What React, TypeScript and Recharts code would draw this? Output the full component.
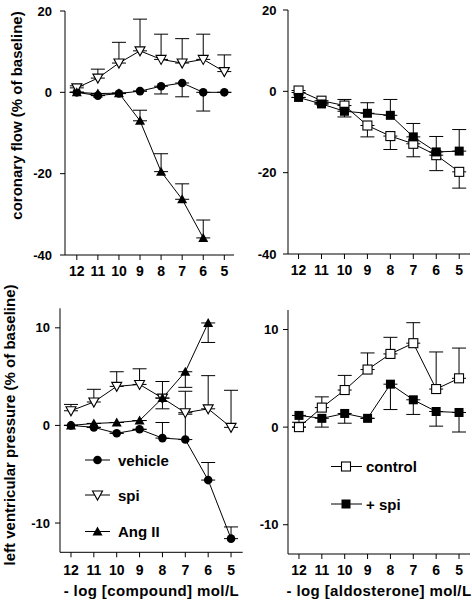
import React from "react"
import { LineChart, Line, XAxis, YAxis, ErrorBar } from "recharts"

const FONT = "'Liberation Sans', Arial, Helvetica, sans-serif"

const doses = [12, 11, 10, 9, 8, 7, 6, 5]

// coronary flow (% of baseline), compound
const cfVehicle = [0, -0.8, -0.3, 0.3, 1.5, 2.3, 0, 0]
const cfVehicleSem = [0, 0, 0, 0, 1.9, 3.4, 4.6, 0] // downward
const cfSpi = [1.1, 3.5, 7.2, 10.2, 8.1, 7.2, 8.1, 5.1]
const cfSpiSem = [0.5, 2.2, 5.1, 7.8, 6.2, 6.0, 6.2, 4.1] // upward
const cfAng = [0, -0.3, -0.2, -7, -19.5, -26.3, -35.8, null]
const cfAngSem = [0, 0, 0, 2.6, 4.4, 3.8, 4.4, 0] // upward

// coronary flow, aldosterone
const cfControl = [0.2, -2.3, -3.5, -8.4, -11, -12.9, -15.7, -19.8]
const cfControlSem = [0.5, 0.5, 2.8, 2.8, 3.3, 3.2, 3.8, 4.0] // downward
const cfAldoSpi = [-1.5, -3.1, -4.9, -5.4, -5.9, -11.2, -14.9, -14.7]
const cfAldoSpiSem = [0, 0, 2.9, 2.6, 3.9, 3.3, 3.8, 5.3] // upward

// left ventricular pressure (% of baseline), compound
const lvVehicle = [0, -0.2, -0.8, -0.4, -1.3, -1.45, -5.6, -11.6]
const lvVehicleSem = [0, 0, 0, 0, 1.6, 2.6, 1.8, 1.2] // upward
const lvSpi = [1.5, 2.4, 4.0, 4.2, 2.8, 1.3, 1.7, -0.2]
const lvSpiSem = [0.65, 1.3, 1.5, 1.6, 1.7, 2.2, 3.4, 3.8] // upward
const lvAng = [0, 0.2, 0.3, 0.5, 2.8, 5.5, 10.5, null]
const lvAngSem = [0, 0, 0, 0, 1.1, 1.6, 2.0, 0] // downward

// left ventricular pressure, aldosterone
const lvControl = [0, 2.0, 3.8, 5.9, 7.5, 8.6, 3.9, 5.0]
const lvControlSem = [0, 1.1, 1.5, 1.7, 1.7, 2.1, 3.8, 3.1] // upward
const lvAldoSpi = [1.2, 0.9, 1.4, 0.9, 4.4, 2.8, 1.6, 1.5]
const lvAldoSpiSem = [0.7, 0.9, 1.0, 0, 2.6, 1.5, 1.5, 2.0] // downward

type Shape = "circle" | "triUp" | "triDownOpen" | "squareOpen" | "squareFilled"

function Marker({ cx, cy, shape }: { cx: number; cy: number; shape: Shape }) {
  if (cx == null || cy == null || isNaN(cy)) return null
  switch (shape) {
    case "circle":
      return <circle cx={cx} cy={cy} r={4.3} fill="#000" />
    case "triUp":
      return <polygon points={`${cx},${cy - 5} ${cx + 5},${cy + 4} ${cx - 5},${cy + 4}`} fill="#000" />
    case "triDownOpen":
      return (
        <polygon
          points={`${cx - 5},${cy - 4} ${cx + 5},${cy - 4} ${cx},${cy + 5}`}
          fill="#fff"
          stroke="#000"
          strokeWidth={1.1}
        />
      )
    case "squareOpen":
      return <rect x={cx - 4.5} y={cy - 4.5} width={9} height={9} fill="#fff" stroke="#000" strokeWidth={1.1} />
    case "squareFilled":
      return <rect x={cx - 4.5} y={cy - 4.5} width={9} height={9} fill="#000" />
  }
  return null
}

interface Series {
  name: string
  values: (number | null)[]
  sem: number[]
  up: boolean
  shape: Shape
}

function buildRows(series: Series[]) {
  return doses.map((x, i) => {
    const row: any = { x }
    series.forEach((s) => {
      row[s.name] = s.values[i]
      row[s.name + "Err"] = s.up ? [0, s.sem[i]] : [s.sem[i], 0]
    })
    return row
  })
}

interface PanelProps {
  left: number
  top: number
  width: number
  height: number
  margin: { top: number; right: number; left: number; bottom: number }
  yWidth: number
  xHeight: number
  xDomain: [number, number]
  yDomain: [number, number]
  yTicks: number[]
  yTickMargin: number
  xTickMargin: number
  title?: string
  series: Series[]
}

function Panel(p: PanelProps) {
  const data = buildRows(p.series)
  return (
    <div style={{ position: "absolute", left: p.left, top: p.top }}>
      <LineChart width={p.width} height={p.height} data={data} margin={p.margin} style={{ fontFamily: FONT }}>
        <XAxis
          type="number"
          dataKey="x"
          domain={p.xDomain}
          reversed
          allowDataOverflow
          ticks={doses}
          interval={0}
          height={p.xHeight}
          stroke="#000"
          tickSize={5}
          tickMargin={p.xTickMargin}
          tick={{ fill: "#000", fontSize: 14, fontWeight: "bold", fontFamily: FONT }}
          label={
            p.title
              ? {
                  value: p.title,
                  position: "insideBottom",
                  offset: 4.5,
                  fill: "#000",
                  fontSize: 15,
                  fontWeight: "bold",
                  fontFamily: FONT,
                  letterSpacing: 0.4,
                }
              : undefined
          }
        />
        <YAxis
          type="number"
          domain={p.yDomain}
          ticks={p.yTicks}
          allowDataOverflow
          interval={0}
          width={p.yWidth}
          stroke="#000"
          tickSize={5}
          tickMargin={p.yTickMargin}
          tick={{ fill: "#000", fontSize: 13, fontWeight: "bold", fontFamily: FONT }}
        />
        {p.series.map((s) => (
          <Line
            key={s.name}
            type="linear"
            dataKey={s.name}
            stroke="#000"
            strokeWidth={1}
            isAnimationActive={false}
            dot={(d: any) => <Marker key={`${s.name}-${d.index}`} cx={d.cx} cy={d.cy} shape={s.shape} />}
            activeDot={false}
          >
            <ErrorBar dataKey={s.name + "Err"} direction="y" width={7} stroke="#000" strokeWidth={1} isAnimationActive={false} />
          </Line>
        ))}
      </LineChart>
    </div>
  )
}

const compoundSeriesCF: Series[] = [
  { name: "vehicle", values: cfVehicle, sem: cfVehicleSem, up: false, shape: "circle" },
  { name: "spi", values: cfSpi, sem: cfSpiSem, up: true, shape: "triDownOpen" },
  { name: "AngII", values: cfAng, sem: cfAngSem, up: true, shape: "triUp" },
]
const aldoSeriesCF: Series[] = [
  { name: "control", values: cfControl, sem: cfControlSem, up: false, shape: "squareOpen" },
  { name: "plusSpi", values: cfAldoSpi, sem: cfAldoSpiSem, up: true, shape: "squareFilled" },
]
const compoundSeriesLV: Series[] = [
  { name: "vehicle", values: lvVehicle, sem: lvVehicleSem, up: true, shape: "circle" },
  { name: "spi", values: lvSpi, sem: lvSpiSem, up: true, shape: "triDownOpen" },
  { name: "AngII", values: lvAng, sem: lvAngSem, up: false, shape: "triUp" },
]
const aldoSeriesLV: Series[] = [
  { name: "control", values: lvControl, sem: lvControlSem, up: true, shape: "squareOpen" },
  { name: "plusSpi", values: lvAldoSpi, sem: lvAldoSpiSem, up: false, shape: "squareFilled" },
]

const compoundLegend: { label: string; shape: Shape; y: number }[] = [
  { label: "vehicle", shape: "circle", y: 460 },
  { label: "spi", shape: "triDownOpen", y: 495 },
  { label: "Ang II", shape: "triUp", y: 531.5 },
]
const aldoLegend: { label: string; shape: Shape; y: number }[] = [
  { label: "control", shape: "squareOpen", y: 466.5 },
  { label: "+ spi", shape: "squareFilled", y: 504 },
]

export default function App() {
  return (
    <div style={{ position: "absolute", left: 0, top: 0, width: 472, height: 600, background: "#fff", fontFamily: FONT }}>
      <Panel
        left={0}
        top={0}
        width={240}
        height={290}
        margin={{ top: 11, right: 6, left: 0, bottom: 0 }}
        yWidth={65}
        xHeight={35}
        xDomain={[4.54, 12.56]}
        yDomain={[-40, 20]}
        yTicks={[-40, -20, 0, 20]}
        yTickMargin={8}
        xTickMargin={6.5}
        series={compoundSeriesCF}
      />
      <Panel
        left={240}
        top={0}
        width={232}
        height={290}
        margin={{ top: 10, right: 2, left: 0, bottom: 0 }}
        yWidth={48}
        xHeight={36}
        xDomain={[4.53, 12.46]}
        yDomain={[-40, 20]}
        yTicks={[-40, -20, 0, 20]}
        yTickMargin={6.5}
        xTickMargin={6}
        series={aldoSeriesCF}
      />
      <Panel
        left={0}
        top={290}
        width={245}
        height={310}
        margin={{ top: 18.3, right: 2.3, left: 0, bottom: 0 }}
        yWidth={60}
        xHeight={47.7}
        xDomain={[4.49, 12.48]}
        yDomain={[-13, 12]}
        yTicks={[-10, 0, 10]}
        yTickMargin={5}
        xTickMargin={8}
        title="- log [compound] mol/L"
        series={compoundSeriesLV}
      />
      <Panel
        left={240}
        top={290}
        width={232}
        height={310}
        margin={{ top: 20, right: 2, left: 0, bottom: 0 }}
        yWidth={48}
        xHeight={46}
        xDomain={[4.52, 12.48]}
        yDomain={[-13, 12]}
        yTicks={[-10, 0, 10]}
        yTickMargin={4.5}
        xTickMargin={6.5}
        title="- log [aldosterone] mol/L"
        series={aldoSeriesLV}
      />
      <svg width={472} height={600} style={{ position: "absolute", left: 0, top: 0, pointerEvents: "none" }}>
        <text
          x={22}
          y={115.5}
          transform="rotate(-90 22 115.5)"
          textAnchor="middle"
          fontSize={15}
          fontWeight="bold"
          fontFamily={FONT}
          fill="#000"
        >
          coronary flow (% of baseline)
        </text>
        <text
          x={14.5}
          y={425}
          transform="rotate(-90 14.5 425)"
          textAnchor="middle"
          fontSize={15}
          fontWeight="bold"
          fontFamily={FONT}
          fill="#000"
        >
          left ventricular pressure (% of baseline)
        </text>
        {compoundLegend.map((l) => (
          <g key={l.label}>
            <line x1={85} x2={110} y1={l.y} y2={l.y} stroke="#000" strokeWidth={1} />
            <Marker cx={97.5} cy={l.y} shape={l.shape} />
            <text x={118} y={l.y + 5.5} fontSize={15} fontWeight="bold" fontFamily={FONT} fill="#000">
              {l.label}
            </text>
          </g>
        ))}
        {aldoLegend.map((l) => (
          <g key={l.label}>
            <line x1={331} x2={362} y1={l.y} y2={l.y} stroke="#000" strokeWidth={1} />
            <Marker cx={346} cy={l.y} shape={l.shape} />
            <text x={366} y={l.y + 5.5} fontSize={15} fontWeight="bold" fontFamily={FONT} fill="#000">
              {l.label}
            </text>
          </g>
        ))}
      </svg>
    </div>
  )
}
